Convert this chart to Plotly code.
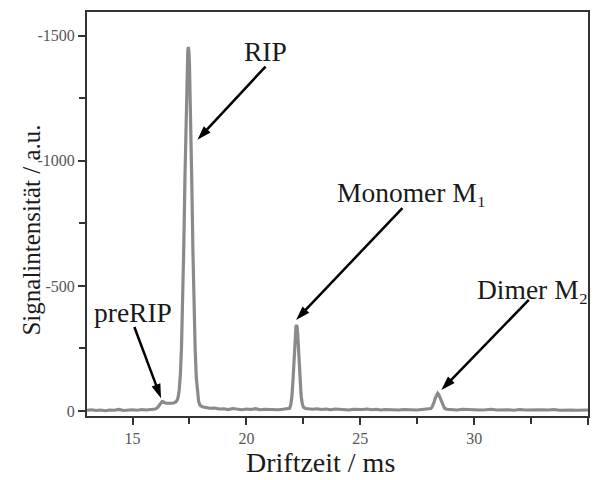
import plotly.graph_objects as go

# Ion mobility spectrum: drift time (ms) vs. signal intensity (a.u.)
drift_ms = [
    13.0, 13.2, 13.4, 13.6, 13.8, 14.0, 14.2, 14.4, 14.6, 14.8,
    15.0, 15.2, 15.4, 15.6, 15.8, 16.0,
    16.1, 16.2, 16.25, 16.3, 16.35, 16.4, 16.5, 16.6, 16.7, 16.8, 16.9, 16.95,
    17.0, 17.05, 17.1, 17.15, 17.2, 17.25, 17.3, 17.35, 17.4, 17.425,
    17.45, 17.475, 17.5, 17.55, 17.6, 17.65, 17.7, 17.75, 17.8, 17.85,
    17.9, 17.95, 18.0, 18.1, 18.2, 18.4, 18.6, 18.8,
    19.0, 19.2, 19.4, 19.6, 19.8, 20.0, 20.2, 20.4, 20.6, 20.8,
    21.0, 21.2, 21.4, 21.6, 21.8,
    21.9, 21.95, 22.0, 22.05, 22.1, 22.15, 22.175, 22.2, 22.225, 22.25,
    22.3, 22.35, 22.4, 22.45, 22.5, 22.6, 22.7,
    22.9, 23.1, 23.3, 23.5, 23.7, 23.9, 24.1, 24.3, 24.5, 24.7,
    24.9, 25.1, 25.3, 25.5, 25.7, 25.9, 26.1, 26.3, 26.5, 26.7,
    26.9, 27.1, 27.3, 27.5, 27.7, 27.9, 28.0,
    28.1, 28.15, 28.2, 28.25, 28.3, 28.35, 28.4, 28.45, 28.5, 28.55,
    28.6, 28.65, 28.7, 28.8,
    29.0, 29.25, 29.5, 29.75, 30.0, 30.25, 30.5, 30.75, 31.0, 31.25,
    31.5, 31.75, 32.0, 32.25, 32.5, 32.75, 33.0, 33.25, 33.5, 33.75,
    34.0, 34.25, 34.5, 34.75, 35.0,
]
signal_au = [
    -3, -5, -2, -4, -1, -4, -3, -6, -2, -4,
    -5, -3, -6, -4, -7, -8,
    -14, -26, -33, -38, -37, -33, -31, -30, -31, -32, -36, -42,
    -54, -85, -146, -255, -424, -656, -927, -1188, -1384, -1437,
    -1455, -1437, -1384, -1188, -922, -646, -409, -245, -133, -72,
    -39, -25, -20, -16, -14, -11, -12, -8,
    -9, -6, -10, -7, -5, -8, -6, -9, -5, -7,
    -6, -8, -5, -7, -8,
    -11, -25, -61, -129, -223, -312, -336, -344, -336, -312,
    -223, -131, -64, -30, -15, -10, -8,
    -7, -9, -6, -8, -5, -8, -6, -7, -4, -7,
    -5, -6, -8, -5, -7, -4, -6, -5, -7, -4,
    -6, -5, -7, -4, -6, -7, -8,
    -10, -15, -25, -38, -53, -65, -71, -65, -53, -39,
    -26, -16, -11, -7,
    -6, -4, -7, -5, -6, -4, -5, -7, -4, -6,
    -5, -3, -6, -4, -5, -3, -5, -4, -6, -3,
    -5, -4, -3, -5, -4,
]

# Axis ticks
x_ticks = [15, 20, 25, 30, 35]
y_ticks = [0, -500, -1000, -1500]
y_tick_text = ["0", "-500", "-1000", "-1500"]

# Peak labels: text, text position, arrow tail, arrow tip (data units)
peak_labels = ["preRIP", "RIP", "Monomer M\u2081", "Dimer M\u2082"]
label_x = [15.03, 20.84, 23.9, 30.04]
label_y = [-392, -1436, -872, -484]
label_anchor = ["center", "center", "left", "left"]
tail_x = [15.08, 20.84, 26.85, 32.4]
tail_y = [-336, -1377, -811, -444]
tip_x = [16.25, 17.85, 22.18, 28.56]
tip_y = [-51, -1084, -364, -84]

serif = "Liberation Serif, Times New Roman, serif"
ink = "#1a1a1a"

fig = go.Figure()
fig.add_trace(go.Scatter(
    x=drift_ms, y=signal_au, mode="lines",
    line=dict(color="#8a8a8a", width=3.2),
    showlegend=False, hoverinfo="skip",
))

# Arrows: a line from tail to tip, capped with an arrow marker at the tip
for tx, ty, hx, hy in zip(tail_x, tail_y, tip_x, tip_y):
    fig.add_trace(go.Scatter(
        x=[tx, hx], y=[ty, hy], mode="lines+markers",
        line=dict(color="#000000", width=2.5),
        marker=dict(symbol="arrow", size=15, opacity=[0, 1],
                    angleref="previous", color="#000000",
                    line=dict(width=0)),
        showlegend=False, hoverinfo="skip",
    ))

for txt, lx, ly, anc in zip(peak_labels, label_x, label_y, label_anchor):
    fig.add_annotation(
        x=lx, y=ly, xref="x", yref="y", text=txt, showarrow=False,
        xanchor=anc, yanchor="middle",
        font=dict(family=serif, size=27.5, color=ink),
    )

# Axis titles
fig.add_annotation(
    x=0.467, y=-0.116, xref="paper", yref="paper",
    text="Driftzeit / ms", showarrow=False,
    xanchor="center", yanchor="middle",
    font=dict(family=serif, size=28, color=ink),
)
fig.add_annotation(
    x=-0.111, y=0.46, xref="paper", yref="paper",
    text="Signalintensität / a.u.", showarrow=False, textangle=-90,
    xanchor="center", yanchor="middle",
    font=dict(family=serif, size=25, color=ink),
)

axis_common = dict(
    showgrid=False, zeroline=False,
    showline=True, linecolor="#333333", linewidth=2, mirror=True,
    ticks="outside", ticklen=7, tickwidth=1.5, tickcolor="#333333",
    tickfont=dict(family=serif, size=16, color="#555555"),
)

fig.update_xaxes(
    range=[13, 35], tickvals=x_ticks,
    minor=dict(tickmode="linear", tick0=12.5, dtick=5, ticklen=6,
               tickwidth=1.5, tickcolor="#333333", ticks="outside"),
    **axis_common,
)
fig.update_yaxes(
    range=[20, -1595], tickvals=y_ticks, ticktext=y_tick_text,
    minor=dict(tickmode="linear", tick0=-250, dtick=500, ticklen=6,
               tickwidth=1.5, tickcolor="#333333", ticks="outside"),
    **axis_common,
)

fig.update_layout(
    width=595, height=480,
    margin=dict(l=87, r=5, t=12, b=64),
    paper_bgcolor="white", plot_bgcolor="white",
)

fig.write_html("out.html")
